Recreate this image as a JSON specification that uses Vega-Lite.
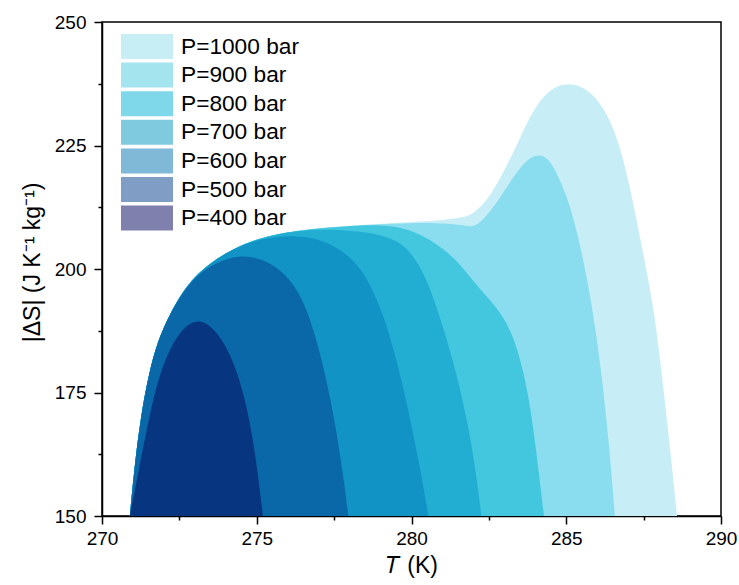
{
  "$schema": "https://vega.github.io/schema/vega-lite/v6.json",
  "width": 619,
  "height": 494,
  "autosize": "none",
  "padding": {"left": 102, "top": 22, "right": 18, "bottom": 69},
  "background": "white",
  "config": {
    "font": "Liberation Sans",
    "view": {"stroke": "black", "strokeWidth": 1.5},
    "axis": {
      "domainColor": "black", "domainWidth": 1.5, "tickColor": "black", "tickWidth": 1.5,
      "labelColor": "black", "titleColor": "black", "labelFontSize": 19, "titleFontSize": 23,
      "titleFontWeight": "normal", "grid": false, "labelFont": "Liberation Sans", "titleFont": "Liberation Sans"
    }
  },
  "datasets": {
    "curves": [
      {"P": 1000, "T": 270.9, "S": 150}, {"P": 1000, "T": 271.05, "S": 160}, {"P": 1000, "T": 271.25, "S": 170},
      {"P": 1000, "T": 271.5, "S": 178.5}, {"P": 1000, "T": 271.8, "S": 185.5}, {"P": 1000, "T": 272.2, "S": 191},
      {"P": 1000, "T": 272.6, "S": 195.3}, {"P": 1000, "T": 273.0, "S": 198.5}, {"P": 1000, "T": 273.5, "S": 201.2},
      {"P": 1000, "T": 274.0, "S": 203.2}, {"P": 1000, "T": 274.5, "S": 204.8}, {"P": 1000, "T": 275.0, "S": 206.0},
      {"P": 1000, "T": 275.75, "S": 207.2}, {"P": 1000, "T": 276.5, "S": 207.9}, {"P": 1000, "T": 277.4, "S": 208.5},
      {"P": 1000, "T": 279.0, "S": 209.2}, {"P": 1000, "T": 280.6, "S": 209.7}, {"P": 1000, "T": 281.2, "S": 210.1},
      {"P": 1000, "T": 281.6, "S": 210.4}, {"P": 1000, "T": 281.89, "S": 210.9}, {"P": 1000, "T": 282.15, "S": 212.0},
      {"P": 1000, "T": 282.54, "S": 214.8}, {"P": 1000, "T": 282.9, "S": 218.8}, {"P": 1000, "T": 283.29, "S": 223.6},
      {"P": 1000, "T": 283.6, "S": 227.8}, {"P": 1000, "T": 283.83, "S": 230.8}, {"P": 1000, "T": 284.1, "S": 233.6},
      {"P": 1000, "T": 284.37, "S": 235.6}, {"P": 1000, "T": 284.7, "S": 237.1}, {"P": 1000, "T": 285.1, "S": 237.6},
      {"P": 1000, "T": 285.5, "S": 237.0}, {"P": 1000, "T": 285.87, "S": 235.3}, {"P": 1000, "T": 286.2, "S": 232.6},
      {"P": 1000, "T": 286.52, "S": 228.6}, {"P": 1000, "T": 286.8, "S": 223.3}, {"P": 1000, "T": 287.06, "S": 216.5},
      {"P": 1000, "T": 287.35, "S": 207.5}, {"P": 1000, "T": 287.6, "S": 199.5}, {"P": 1000, "T": 287.81, "S": 192.5},
      {"P": 1000, "T": 288.0, "S": 183.5}, {"P": 1000, "T": 288.2, "S": 172.5}, {"P": 1000, "T": 288.4, "S": 161},
      {"P": 1000, "T": 288.58, "S": 150},

      {"P": 900, "T": 270.9, "S": 150}, {"P": 900, "T": 271.05, "S": 160}, {"P": 900, "T": 271.25, "S": 170},
      {"P": 900, "T": 271.5, "S": 178.5}, {"P": 900, "T": 271.8, "S": 185.5}, {"P": 900, "T": 272.2, "S": 191},
      {"P": 900, "T": 272.6, "S": 195.3}, {"P": 900, "T": 273.0, "S": 198.5}, {"P": 900, "T": 273.5, "S": 201.2},
      {"P": 900, "T": 274.0, "S": 203.2}, {"P": 900, "T": 274.5, "S": 204.8}, {"P": 900, "T": 275.0, "S": 206.0},
      {"P": 900, "T": 275.75, "S": 207.2}, {"P": 900, "T": 276.5, "S": 207.9}, {"P": 900, "T": 277.4, "S": 208.5},
      {"P": 900, "T": 279.0, "S": 209.1}, {"P": 900, "T": 280.0, "S": 209.3}, {"P": 900, "T": 280.8, "S": 209.3},
      {"P": 900, "T": 281.4, "S": 209.1}, {"P": 900, "T": 281.8, "S": 208.7}, {"P": 900, "T": 282.0, "S": 208.6},
      {"P": 900, "T": 282.25, "S": 209.5}, {"P": 900, "T": 282.64, "S": 212.4}, {"P": 900, "T": 283.0, "S": 215.8},
      {"P": 900, "T": 283.29, "S": 218.6}, {"P": 900, "T": 283.6, "S": 221.2}, {"P": 900, "T": 283.85, "S": 222.6},
      {"P": 900, "T": 284.13, "S": 223.2}, {"P": 900, "T": 284.4, "S": 222.4}, {"P": 900, "T": 284.6, "S": 220.6},
      {"P": 900, "T": 284.85, "S": 217.3}, {"P": 900, "T": 285.12, "S": 212.8}, {"P": 900, "T": 285.35, "S": 207.5},
      {"P": 900, "T": 285.55, "S": 201.8}, {"P": 900, "T": 285.79, "S": 194.0}, {"P": 900, "T": 286.0, "S": 185.5},
      {"P": 900, "T": 286.2, "S": 175.5}, {"P": 900, "T": 286.4, "S": 163.5}, {"P": 900, "T": 286.57, "S": 150},

      {"P": 800, "T": 270.9, "S": 150}, {"P": 800, "T": 271.05, "S": 160}, {"P": 800, "T": 271.25, "S": 170},
      {"P": 800, "T": 271.5, "S": 178.5}, {"P": 800, "T": 271.8, "S": 185.5}, {"P": 800, "T": 272.2, "S": 191},
      {"P": 800, "T": 272.6, "S": 195.3}, {"P": 800, "T": 273.0, "S": 198.5}, {"P": 800, "T": 273.5, "S": 201.2},
      {"P": 800, "T": 274.0, "S": 203.2}, {"P": 800, "T": 274.5, "S": 204.8}, {"P": 800, "T": 275.0, "S": 206.0},
      {"P": 800, "T": 275.75, "S": 207.2}, {"P": 800, "T": 276.5, "S": 207.9}, {"P": 800, "T": 277.4, "S": 208.4},
      {"P": 800, "T": 278.3, "S": 208.8}, {"P": 800, "T": 279.0, "S": 208.9}, {"P": 800, "T": 279.6, "S": 208.5},
      {"P": 800, "T": 280.06, "S": 207.6}, {"P": 800, "T": 280.45, "S": 206.4}, {"P": 800, "T": 280.81, "S": 205.0},
      {"P": 800, "T": 281.15, "S": 203.4}, {"P": 800, "T": 281.46, "S": 201.6}, {"P": 800, "T": 281.7, "S": 199.9},
      {"P": 800, "T": 281.95, "S": 197.9}, {"P": 800, "T": 282.25, "S": 195.7}, {"P": 800, "T": 282.6, "S": 193.3},
      {"P": 800, "T": 282.95, "S": 190.4}, {"P": 800, "T": 283.2, "S": 187.5}, {"P": 800, "T": 283.42, "S": 183.8},
      {"P": 800, "T": 283.62, "S": 179.0}, {"P": 800, "T": 283.8, "S": 173.5}, {"P": 800, "T": 283.96, "S": 166.5},
      {"P": 800, "T": 284.12, "S": 158.5}, {"P": 800, "T": 284.28, "S": 150},

      {"P": 700, "T": 270.9, "S": 150}, {"P": 700, "T": 271.05, "S": 160}, {"P": 700, "T": 271.25, "S": 170},
      {"P": 700, "T": 271.5, "S": 178.5}, {"P": 700, "T": 271.8, "S": 185.5}, {"P": 700, "T": 272.2, "S": 191},
      {"P": 700, "T": 272.6, "S": 195.3}, {"P": 700, "T": 273.0, "S": 198.5}, {"P": 700, "T": 273.5, "S": 201.2},
      {"P": 700, "T": 274.0, "S": 203.2}, {"P": 700, "T": 274.5, "S": 204.8}, {"P": 700, "T": 275.0, "S": 206.0},
      {"P": 700, "T": 275.75, "S": 207.2}, {"P": 700, "T": 276.5, "S": 207.8}, {"P": 700, "T": 277.2, "S": 208.0},
      {"P": 700, "T": 278.0, "S": 207.8}, {"P": 700, "T": 278.6, "S": 207.4}, {"P": 700, "T": 279.1, "S": 206.7},
      {"P": 700, "T": 279.5, "S": 205.7}, {"P": 700, "T": 279.8, "S": 204.4}, {"P": 700, "T": 280.06, "S": 202.6},
      {"P": 700, "T": 280.35, "S": 199.6}, {"P": 700, "T": 280.6, "S": 196.0}, {"P": 700, "T": 280.9, "S": 190.6},
      {"P": 700, "T": 281.2, "S": 184.5}, {"P": 700, "T": 281.45, "S": 178.8}, {"P": 700, "T": 281.67, "S": 173.0},
      {"P": 700, "T": 281.85, "S": 167.5}, {"P": 700, "T": 282.0, "S": 162.0}, {"P": 700, "T": 282.14, "S": 156.0},
      {"P": 700, "T": 282.26, "S": 150},

      {"P": 600, "T": 270.9, "S": 150}, {"P": 600, "T": 271.05, "S": 160}, {"P": 600, "T": 271.25, "S": 170},
      {"P": 600, "T": 271.5, "S": 178.5}, {"P": 600, "T": 271.8, "S": 185.5}, {"P": 600, "T": 272.2, "S": 191},
      {"P": 600, "T": 272.6, "S": 195.3}, {"P": 600, "T": 273.0, "S": 198.5}, {"P": 600, "T": 273.5, "S": 201.2},
      {"P": 600, "T": 274.0, "S": 203.2}, {"P": 600, "T": 274.5, "S": 204.7}, {"P": 600, "T": 275.0, "S": 205.8},
      {"P": 600, "T": 275.6, "S": 206.5}, {"P": 600, "T": 276.3, "S": 206.7}, {"P": 600, "T": 276.8, "S": 206.3},
      {"P": 600, "T": 277.15, "S": 205.6}, {"P": 600, "T": 277.5, "S": 204.6}, {"P": 600, "T": 277.8, "S": 203.4},
      {"P": 600, "T": 278.1, "S": 201.8}, {"P": 600, "T": 278.35, "S": 200.0}, {"P": 600, "T": 278.57, "S": 197.8},
      {"P": 600, "T": 278.77, "S": 195.3}, {"P": 600, "T": 278.98, "S": 192.3}, {"P": 600, "T": 279.18, "S": 188.8},
      {"P": 600, "T": 279.41, "S": 184.0}, {"P": 600, "T": 279.63, "S": 178.7}, {"P": 600, "T": 279.84, "S": 173.0},
      {"P": 600, "T": 280.05, "S": 166.7}, {"P": 600, "T": 280.25, "S": 160.5}, {"P": 600, "T": 280.41, "S": 155.0},
      {"P": 600, "T": 280.55, "S": 150},

      {"P": 500, "T": 270.9, "S": 150}, {"P": 500, "T": 271.05, "S": 160}, {"P": 500, "T": 271.25, "S": 170},
      {"P": 500, "T": 271.5, "S": 178.5}, {"P": 500, "T": 271.8, "S": 185.5}, {"P": 500, "T": 272.2, "S": 191},
      {"P": 500, "T": 272.6, "S": 195.2}, {"P": 500, "T": 273.0, "S": 198.2}, {"P": 500, "T": 273.5, "S": 200.7},
      {"P": 500, "T": 274.1, "S": 202.3}, {"P": 500, "T": 274.6, "S": 202.7}, {"P": 500, "T": 275.1, "S": 202.1},
      {"P": 500, "T": 275.55, "S": 200.8}, {"P": 500, "T": 276.0, "S": 198.4}, {"P": 500, "T": 276.35, "S": 195.3},
      {"P": 500, "T": 276.65, "S": 191.2}, {"P": 500, "T": 276.9, "S": 186.3}, {"P": 500, "T": 277.15, "S": 180.3},
      {"P": 500, "T": 277.37, "S": 174.0}, {"P": 500, "T": 277.55, "S": 168.0}, {"P": 500, "T": 277.7, "S": 162.0},
      {"P": 500, "T": 277.84, "S": 156.0}, {"P": 500, "T": 277.96, "S": 150},

      {"P": 400, "T": 270.9, "S": 150}, {"P": 400, "T": 271.23, "S": 160.7}, {"P": 400, "T": 271.55, "S": 170.8},
      {"P": 400, "T": 271.87, "S": 179.0}, {"P": 400, "T": 272.3, "S": 185.3}, {"P": 400, "T": 272.7, "S": 188.6},
      {"P": 400, "T": 273.1, "S": 189.7}, {"P": 400, "T": 273.5, "S": 188.7}, {"P": 400, "T": 273.95, "S": 185.2},
      {"P": 400, "T": 274.35, "S": 179.6}, {"P": 400, "T": 274.7, "S": 171.8}, {"P": 400, "T": 274.97, "S": 162.0},
      {"P": 400, "T": 275.2, "S": 150}
    ]
  },
  "data": {"name": "curves"},
  "encoding": {
    "x": {
      "field": "T", "type": "quantitative",
      "scale": {"domain": [270, 290], "nice": false, "zero": false},
      "axis": {
        "title": "𝑇 (K)",
        "values": [270, 272.5, 275, 277.5, 280, 282.5, 285, 287.5, 290],
        "labelExpr": "datum.value % 5 === 0 ? datum.label : ''",
        "tickSize": {"condition": {"test": "datum.value % 5 === 0", "value": 8}, "value": 4},
        "labelPadding": 5, "titlePadding": 6, "labelFlush": false, "labelOverlap": false
      }
    },
    "y": {
      "field": "S", "type": "quantitative",
      "scale": {"domain": [150, 250], "nice": false, "zero": false},
      "axis": {
        "title": "|ΔS| (J K⁻¹ kg⁻¹)",
        "values": [150, 162.5, 175, 187.5, 200, 212.5, 225, 237.5, 250],
        "labelExpr": "datum.value % 25 === 0 ? datum.label : ''",
        "tickSize": {"condition": {"test": "datum.value % 25 === 0", "value": 8}, "value": 4},
        "labelPadding": 8, "titlePadding": 10, "titleY": 240, "labelFlush": false, "labelOverlap": false
      }
    }
  },
  "layer": [
    {
      "mark": {"type": "square", "opacity": 0},
      "encoding": {
        "color": {
          "field": "P", "type": "nominal",
          "scale": {"domain": [1000, 900, 800, 700, 600, 500, 400],
                    "range": ["#c8eef5", "#a3e4ef", "#7fd8e9", "#80cae0", "#80b8d8", "#7f9dc5", "#8080ae"]},
          "legend": {
            "title": null, "orient": "none", "legendX": 19, "legendY": 10.5,
            "symbolType": "M-1,-0.48H1V0.48H-1Z", "symbolSize": 2704, "symbolOpacity": 1,
            "symbolStrokeWidth": 0, "labelFontSize": 22.7, "labelFont": "Liberation Sans", "labelColor": "black",
            "labelOffset": 8, "rowPadding": 0.6, "clipHeight": 28,
            "labelExpr": "'P=' + datum.label + ' bar'"
          }
        }
      }
    },
    {"transform": [{"filter": "datum.P == 1000"}], "mark": {"type": "area", "interpolate": "basis", "color": "#c7eef6"}, "encoding": {"y2": {"datum": 150}}},
    {"transform": [{"filter": "datum.P == 900"}], "mark": {"type": "area", "interpolate": "basis", "color": "#89ddee"}, "encoding": {"y2": {"datum": 150}}},
    {"transform": [{"filter": "datum.P == 800"}], "mark": {"type": "area", "interpolate": "basis", "color": "#43c7df"}, "encoding": {"y2": {"datum": 150}}},
    {"transform": [{"filter": "datum.P == 700"}], "mark": {"type": "area", "interpolate": "basis", "color": "#22aed3"}, "encoding": {"y2": {"datum": 150}}},
    {"transform": [{"filter": "datum.P == 600"}], "mark": {"type": "area", "interpolate": "basis", "color": "#1193c6"}, "encoding": {"y2": {"datum": 150}}},
    {"transform": [{"filter": "datum.P == 500"}], "mark": {"type": "area", "interpolate": "basis", "color": "#0a68a8"}, "encoding": {"y2": {"datum": 150}}},
    {"transform": [{"filter": "datum.P == 400"}], "mark": {"type": "area", "interpolate": "basis", "color": "#07357f"}, "encoding": {"y2": {"datum": 150}}}
  ]
}
